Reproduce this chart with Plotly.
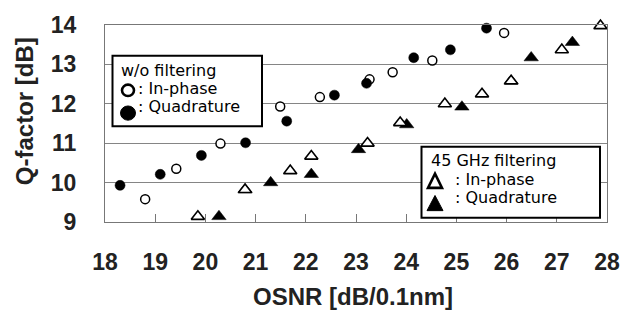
import plotly.graph_objects as go

# ---- data ----
wo_inphase_x = [18.8, 19.42, 20.3, 21.49, 22.28, 23.27, 23.73, 24.52, 25.95]
wo_inphase_y = [9.58, 10.35, 10.99, 11.93, 12.17, 12.62, 12.80, 13.10, 13.80]

wo_quad_x = [18.3, 19.1, 19.92, 20.8, 21.62, 22.57, 23.21, 24.15, 24.88, 25.6]
wo_quad_y = [9.93, 10.21, 10.69, 11.01, 11.56, 12.22, 12.52, 13.17, 13.37, 13.92]

f45_inphase_x = [19.85, 20.79, 21.69, 22.11, 23.23, 23.88, 24.77, 25.51, 26.09, 27.1, 27.87]
f45_inphase_y = [9.14, 9.82, 10.30, 10.67, 11.00, 11.52, 12.00, 12.25, 12.58, 13.37, 13.98]

f45_quad_x = [20.27, 20.79, 21.3, 22.11, 23.05, 24.01, 25.11, 26.09, 26.49, 27.31]
f45_quad_y = [9.14, 9.82, 10.0, 10.21, 10.84, 11.47, 11.92, 12.58, 13.17, 13.56]

x_ticks = [18, 19, 20, 21, 22, 23, 24, 25, 26, 27, 28]
y_ticks = [9, 10, 11, 12, 13, 14]

# ---- layout geometry (pixels) ----
W, H = 633, 321
L, R, T, B = 105, 607, 14, 222


def px(x):
    return (x - L) / (R - L)


def py(y):
    return (B - y) / (B - T)


fig = go.Figure()

fig.add_trace(go.Scatter(
    x=wo_inphase_x, y=wo_inphase_y, mode="markers", cliponaxis=False,
    marker=dict(symbol="circle", size=9, color="white",
                line=dict(color="black", width=1.5))))
fig.add_trace(go.Scatter(
    x=wo_quad_x, y=wo_quad_y, mode="markers", cliponaxis=False,
    marker=dict(symbol="circle", size=10, color="black",
                line=dict(color="black", width=0.5))))
fig.add_trace(go.Scatter(
    x=f45_quad_x, y=f45_quad_y, mode="markers", cliponaxis=False,
    marker=dict(symbol="triangle-up", size=12.5, color="black",
                line=dict(color="black", width=0.5))))
fig.add_trace(go.Scatter(
    x=f45_inphase_x, y=f45_inphase_y, mode="markers", cliponaxis=False,
    marker=dict(symbol="triangle-up", size=11.5, color="white",
                line=dict(color="black", width=1.6))))

axis_gray = "#777777"
xtick_font = dict(family="Liberation Sans, Arial, sans-serif", size=23,
                  color="#222", weight="bold")
ytick_font = dict(family="Liberation Sans, Arial, sans-serif", size=23,
                  color="#222", weight="bold")

fig.update_xaxes(
    range=[18, 28], tickvals=x_ticks, ticktext=[str(v) for v in x_ticks],
    showgrid=False, zeroline=False, showline=True, mirror=True,
    linecolor=axis_gray, linewidth=1.3, ticks="inside", ticklen=8,
    tickcolor=axis_gray, tickwidth=1.2, tickfont=xtick_font,
    ticklabelstandoff=19)
fig.update_yaxes(
    range=[9, 14], tickvals=y_ticks, ticktext=[str(v) for v in y_ticks],
    showgrid=True, gridcolor="#858585", gridwidth=1.2, zeroline=False,
    showline=True, mirror=True, linecolor=axis_gray, linewidth=1.3,
    ticks="", tickfont=ytick_font, ticklabelstandoff=23)

# axis titles
title_font = dict(family="Liberation Sans, Arial, sans-serif", size=24,
                  color="#222", weight="bold")
ann = [
    dict(text="OSNR [dB/0.1nm]", xref="paper", yref="paper",
         x=px(353), y=py(301), xanchor="center", yanchor="middle",
         showarrow=False, font=title_font),
    dict(text="Q-factor [dB]", xref="paper", yref="paper",
         x=px(24), y=py(105), xanchor="center", yanchor="middle",
         textangle=-90, showarrow=False, font=title_font),
]

leg_font = dict(family="DejaVu Sans, sans-serif", size=16, color="black")

shapes = [
    # legend box 1 (w/o filtering)
    dict(type="rect", xref="paper", yref="paper", x0=px(112.5), x1=px(262),
         y0=py(121), y1=py(46.5), line=dict(color="black", width=2),
         fillcolor="white", layer="above"),
    dict(type="circle", xref="paper", yref="paper", x0=px(122), x1=px(134),
         y0=py(89), y1=py(77), line=dict(color="black", width=2.6),
         fillcolor="white", layer="above"),
    dict(type="circle", xref="paper", yref="paper", x0=px(120.5), x1=px(135.5),
         y0=py(114.5), y1=py(99.5), line=dict(color="black", width=1),
         fillcolor="black", layer="above"),
    # legend box 2 (45 GHz filtering)
    dict(type="rect", xref="paper", yref="paper", x0=px(421.5), x1=px(600),
         y0=py(217.5), y1=py(142.5), line=dict(color="black", width=2),
         fillcolor="white", layer="above"),
    dict(type="path", xref="paper", yref="paper",
         path=f"M {px(428)},{py(186)} L {px(442)},{py(186)} L {px(435)},{py(171)} Z",
         line=dict(color="black", width=2.6), fillcolor="white", layer="above"),
    dict(type="path", xref="paper", yref="paper",
         path=f"M {px(427)},{py(210)} L {px(443)},{py(210)} L {px(435)},{py(194)} Z",
         line=dict(color="black", width=1), fillcolor="black", layer="above"),
]

legend_texts = [
    ("w/o filtering", 120, 62),
    (": In-phase", 137, 81),
    (": Quadrature", 137, 100),
    ("45 GHz filtering", 430, 157),
    (": In-phase", 454, 177),
    (": Quadrature", 454, 196),
]
for txt, lx, ly in legend_texts:
    ann.append(dict(text=txt, xref="paper", yref="paper", x=px(lx), y=py(ly),
                    xanchor="left", yanchor="middle", showarrow=False,
                    font=leg_font, borderpad=0))

fig.update_layout(
    width=W, height=H, showlegend=False,
    margin=dict(l=L, r=W - R, t=T, b=H - B, pad=0),
    paper_bgcolor="white", plot_bgcolor="white",
    shapes=shapes, annotations=ann,
)

fig.write_html("out.html")
